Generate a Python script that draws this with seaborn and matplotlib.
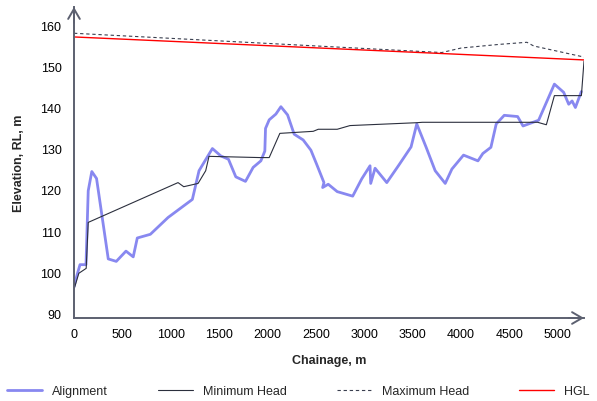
import matplotlib
matplotlib.use("Agg")
import matplotlib.pyplot as plt
import seaborn as sns
import pandas as pd

# ---- data ----
align_ch = [0, 34, 62, 124, 147, 184, 233, 354, 437, 537, 612, 654, 789, 972, 1223, 1292,
            1430, 1517, 1596, 1672, 1772, 1851, 1931, 1972, 1979, 2017, 2086, 2138, 2207,
            2275, 2368, 2448, 2507, 2583, 2569, 2627, 2720, 2880, 2973, 3059, 3066, 3111,
            3232, 3352, 3483, 3542, 3639, 3732, 3836, 3905, 4025, 4174, 4225, 4308, 4363,
            4446, 4584, 4640, 4801, 4964, 5060, 5112, 5147, 5181, 5243]
align_el = [96.4, 99.5, 101.8, 101.8, 119.8, 124.5, 122.8, 103.2, 102.6, 105.1, 103.7, 108.3,
            109.2, 113.3, 117.7, 124.7, 130.1, 128.3, 127.5, 123.2, 122.1, 125.5, 127.1,
            129.5, 135.0, 137.1, 138.5, 140.3, 138.3, 133.6, 132.2, 129.7, 126.3, 121.8,
            120.6, 121.4, 119.6, 118.5, 122.7, 125.9, 121.6, 125.3, 121.8, 125.9, 130.5,
            136.1, 130.4, 124.7, 121.6, 125.1, 128.5, 127.1, 128.9, 130.4, 136.1, 138.2,
            137.9, 135.6, 137.0, 145.8, 143.8, 140.9, 141.7, 140.1, 144.0]

minh_ch = [0, 50, 126, 147, 1075, 1134, 1282, 1361, 1395, 1920, 2017, 2127, 2472, 2524,
           2720, 2852, 3542, 3600, 4791, 4881, 4964, 5243, 5270]
minh_el = [95.8, 99.7, 100.9, 112.1, 121.8, 120.8, 121.6, 124.7, 128.2, 127.9, 127.9, 133.8,
           134.3, 134.8, 134.8, 135.7, 136.4, 136.5, 136.5, 135.9, 143.0, 143.0, 151.4]

maxh_ch = [0, 3800, 4000, 4400, 4680, 4750, 5270]
maxh_el = [158.2, 153.5, 154.6, 155.5, 156.0, 155.1, 152.4]

hgl_ch = [0, 5270]
hgl_el = [157.3, 151.7]

x_ticks = [0, 500, 1000, 1500, 2000, 2500, 3000, 3500, 4000, 4500, 5000]
y_ticks = [90, 100, 110, 120, 130, 140, 150, 160]

# ---- style ----
sns.set_theme(style="white")
plt.rcParams["font.family"] = ["Liberation Sans", "DejaVu Sans"]

fig = plt.figure(figsize=(5.97, 4.02), dpi=100)
ax = fig.add_axes([74 / 597, 1 - 319 / 402, 510 / 597, 311 / 402])

df_a = pd.DataFrame({"x": align_ch, "y": align_el})
df_min = pd.DataFrame({"x": minh_ch, "y": minh_el})
df_max = pd.DataFrame({"x": maxh_ch, "y": maxh_el})
df_h = pd.DataFrame({"x": hgl_ch, "y": hgl_el})

sns.lineplot(data=df_a, x="x", y="y", ax=ax, sort=False, estimator=None,
             color="#8888f0", linewidth=2.0, label="Alignment")
sns.lineplot(data=df_min, x="x", y="y", ax=ax, sort=False, estimator=None,
             color="#2b2f3d", linewidth=0.8, label="Minimum Head")
sns.lineplot(data=df_max, x="x", y="y", ax=ax, sort=False, estimator=None,
             color="#3a3f4f", linewidth=0.8, linestyle=(0, (3, 2.5)), label="Maximum Head")
sns.lineplot(data=df_h, x="x", y="y", ax=ax, sort=False, estimator=None,
             color="#ff0000", linewidth=1.0, label="HGL")

ax.set_xlim(0, 5270)
ax.set_ylim(88.8, 164.6)
ax.set_xticks(x_ticks)
ax.set_yticks(y_ticks)
ax.tick_params(axis="both", length=0, labelsize=9, colors="#000000")
ax.tick_params(axis="y", pad=9)
ax.tick_params(axis="x", pad=7)

for s in ["top", "right"]:
    ax.spines[s].set_visible(False)
spine_col = "#5c6070"
for s in ["left", "bottom"]:
    ax.spines[s].set_color(spine_col)
    ax.spines[s].set_linewidth(1.4)

# arrowheads on axes
ax.annotate("", xy=(1.0, 0), xytext=(0.97, 0), xycoords="axes fraction",
            arrowprops=dict(arrowstyle="->,head_length=0.6,head_width=0.35",
                            color=spine_col, lw=1.4, shrinkA=0, shrinkB=0))
ax.annotate("", xy=(0, 1.0), xytext=(0, 0.95), xycoords="axes fraction",
            arrowprops=dict(arrowstyle="->,head_length=0.6,head_width=0.35",
                            color=spine_col, lw=1.4, shrinkA=0, shrinkB=0))

ax.set_xlabel("Chainage, m", fontsize=9, fontweight="bold", labelpad=10)
ax.set_ylabel("Elevation, RL, m", fontsize=9, fontweight="bold", labelpad=11)

handles, labels = ax.get_legend_handles_labels()
ax.get_legend().remove()
fig.legend(handles, labels, loc="center", bbox_to_anchor=(0.5, 10 / 402), ncol=4,
           frameon=False, fontsize=9, columnspacing=4.0, handlelength=2.8,
           handletextpad=0.8)

fig.savefig("out.png", dpi=100)
